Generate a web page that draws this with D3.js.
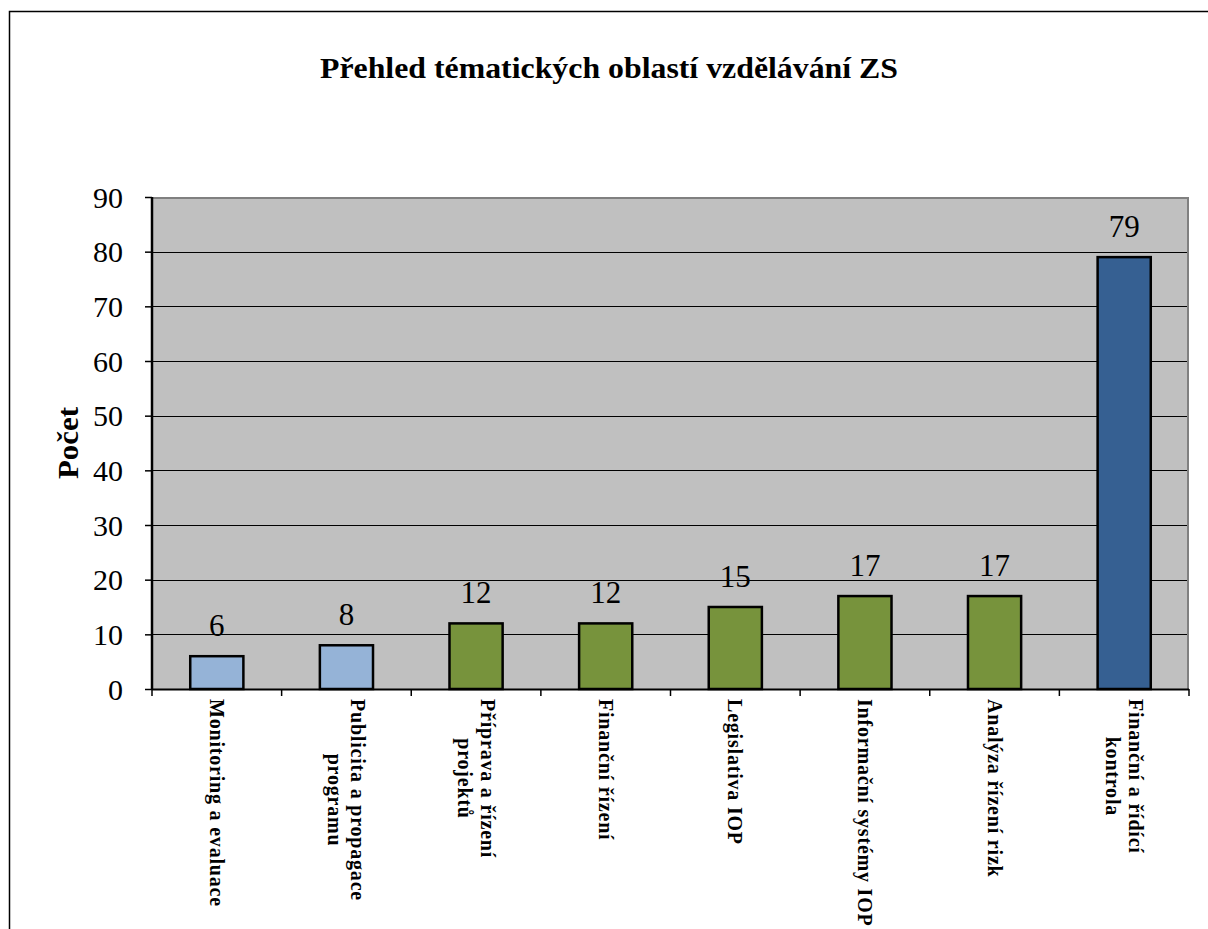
<!DOCTYPE html>
<html>
<head>
    <meta charset="utf-8">
    <script type="text/javascript" src="https://d3js.org/d3.v7.min.js"></script>
    <style>
        body { margin: 0; background: white; }
        svg text { font-family: "Liberation Serif", "Tinos", "Times New Roman", "DejaVu Serif", serif; }
    </style>
</head>
<body>
    <div id="chart"></div>
    <script type="text/javascript">
        // data
        const categories = [
            ["Monitoring a evaluace"],
            ["Publicita a propagace", "programu"],
            ["Příprava a řízení", "projektů"],
            ["Finanční řízení"],
            ["Legislativa IOP"],
            ["Informační systémy IOP"],
            ["Analýza řízení rizk"],
            ["Finanční a řídící", "kontrola"]
        ];
        const values = [6, 8, 12, 12, 15, 17, 17, 79];
        const groups = ["light", "light", "green", "green", "green", "green", "green", "dark"];
        const yTicks = [0, 10, 20, 30, 40, 50, 60, 70, 80, 90];
        const titleText = "Přehled tématických oblastí vzdělávání ZS";
        const yTitle = "Počet";

        const colors = {light: "#95b3d7", green: "#77933c", dark: "#366092"};

        // layout
        let W = 1208, H = 929;
        let pLeft = 152, pRight = 1189, pTop = 197, pBottom = 689;

        let svg = d3.select("#chart")
            .append("svg")
            .attr("width", W)
            .attr("height", H);

        // outer frame
        svg.append("rect")
            .attr("x", 9.5).attr("y", 11.5)
            .attr("width", W + 20).attr("height", H + 20)
            .style("fill", "white")
            .style("stroke", "#000")
            .style("stroke-width", 1.5);

        let x = d3.scaleBand()
            .domain(d3.range(categories.length))
            .range([pLeft, pRight])
            .paddingInner(0)
            .paddingOuter(0);

        let y = d3.scaleLinear()
            .domain([0, 90])
            .range([pBottom, pTop]);

        // plot area
        svg.append("rect")
            .attr("x", pLeft).attr("y", pTop)
            .attr("width", pRight - pLeft).attr("height", pBottom - pTop)
            .style("fill", "#c0c0c0");

        // gridlines
        svg.selectAll("line.grid")
            .data(yTicks.filter(d => d > 0 && d < 90))
            .enter()
            .append("line")
            .attr("class", "grid")
            .attr("x1", pLeft).attr("x2", pRight)
            .attr("y1", d => Math.round(y(d)) + 0.5)
            .attr("y2", d => Math.round(y(d)) + 0.5)
            .style("stroke", "#000")
            .style("stroke-width", 1);

        // top/right border of the plot
        svg.append("path")
            .attr("d", `M ${pLeft} ${pTop + 1} L ${pRight - 1} ${pTop + 1} L ${pRight - 1} ${pBottom}`)
            .style("fill", "none")
            .style("stroke", "#808080")
            .style("stroke-width", 2);

        // bars
        let barW = x.bandwidth() * 0.41;
        svg.selectAll("rect.bar")
            .data(values)
            .enter()
            .append("rect")
            .attr("class", "bar")
            .attr("x", (d, i) => x(i) + x.bandwidth() / 2 - barW / 2)
            .attr("y", d => y(d))
            .attr("width", barW)
            .attr("height", d => y(0) - y(d))
            .style("fill", (d, i) => colors[groups[i]])
            .style("stroke", "#000")
            .style("stroke-width", 2.5);

        // value labels
        svg.selectAll("text.val")
            .data(values)
            .enter()
            .append("text")
            .attr("class", "val")
            .attr("x", (d, i) => x(i) + x.bandwidth() / 2)
            .attr("y", d => y(d) - 20)
            .attr("text-anchor", "middle")
            .style("font-size", "31px")
            .text(d => d);

        // y axis
        let yAxis = svg.append("g")
            .attr("transform", `translate(${pLeft},0)`)
            .call(d3.axisLeft(y).tickValues(yTicks).tickSize(7).tickPadding(22));
        yAxis.select(".domain").remove();
        yAxis.attr("font-family", null).attr("font-size", null);
        yAxis.selectAll(".tick line").style("stroke", "#000").style("stroke-width", 1.5);
        yAxis.selectAll(".tick text")
            .style("font-size", "30px")
            .attr("dy", "0.34em")
            .style("fill", "#000");
        svg.append("line")
            .attr("x1", pLeft).attr("x2", pLeft)
            .attr("y1", pTop).attr("y2", pBottom + 1)
            .style("stroke", "#000").style("stroke-width", 2.5);

        // x axis
        svg.append("line")
            .attr("x1", pLeft).attr("x2", pRight)
            .attr("y1", pBottom + 0.5).attr("y2", pBottom + 0.5)
            .style("stroke", "#000").style("stroke-width", 2);
        svg.selectAll("line.xtick")
            .data(d3.range(categories.length + 1))
            .enter()
            .append("line")
            .attr("class", "xtick")
            .attr("x1", i => i < categories.length ? x(i) : pRight)
            .attr("x2", i => i < categories.length ? x(i) : pRight)
            .attr("y1", pBottom).attr("y2", pBottom + 7)
            .style("stroke", "#000").style("stroke-width", 1.5);

        // category labels, rotated to read top-down, lines centred on each other
        let lineH = 23;
        let labels = svg.selectAll("text.cat")
            .data(categories)
            .enter()
            .append("text")
            .attr("class", "cat")
            .attr("transform", (d, i) => {
                let cx = x(i) + x.bandwidth() / 2 + (d.length - 1) * lineH / 2 - 7;
                return `translate(${cx},${pBottom + 10}) rotate(90)`;
            })
            .attr("text-anchor", "middle")
            .style("font-size", "20px")
            .style("font-weight", "bold")
            .style("letter-spacing", "0.8px");
        labels.each(function(d) {
            let t = d3.select(this);
            let spans = t.selectAll("tspan")
                .data(d)
                .enter()
                .append("tspan")
                .attr("y", (s, j) => j * lineH)
                .text(s => s);
            let maxLen = d3.max(spans.nodes(), n => n.getComputedTextLength());
            spans.attr("x", maxLen / 2);
        });

        // title
        svg.append("text")
            .attr("x", 609)
            .attr("y", 78)
            .attr("text-anchor", "middle")
            .attr("textLength", 578)
            .attr("lengthAdjust", "spacingAndGlyphs")
            .style("font-size", "29px")
            .style("font-weight", "bold")
            .text(titleText);

        // y title
        svg.append("text")
            .attr("transform", "translate(78,443) rotate(-90)")
            .attr("text-anchor", "middle")
            .attr("textLength", 72)
            .attr("lengthAdjust", "spacingAndGlyphs")
            .style("font-size", "29px")
            .style("font-weight", "bold")
            .text(yTitle);
    </script>
</body>
</html>
